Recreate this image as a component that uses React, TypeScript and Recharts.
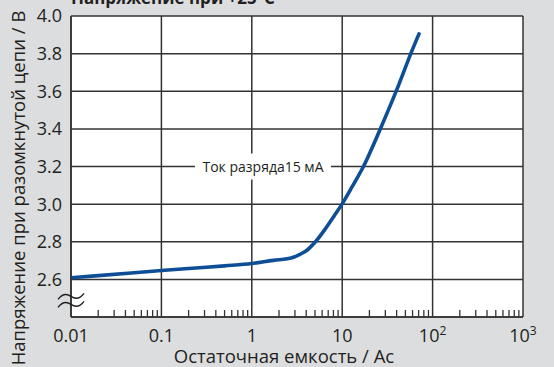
import React from "react";
import {
  ComposedChart,
  Line,
  Scatter,
  XAxis,
  YAxis,
  CartesianGrid,
  ReferenceDot,
} from "recharts";

const capacity = [0.01, 0.02, 0.05, 0.1, 0.2, 0.5, 1, 1.73, 2.65, 3.41, 4.08, 5.0, 6.45, 8.11, 9.95, 12.8, 17.0, 26.9, 40.4, 57.7, 70.7];
const voltage = [2.609, 2.62, 2.635, 2.647, 2.658, 2.672, 2.684, 2.701, 2.712, 2.733, 2.755, 2.797, 2.866, 2.936, 3.0, 3.09, 3.196, 3.409, 3.611, 3.803, 3.905];

const xTicks = [0.01, 0.1, 1, 10, 100, 1000];
const xTickLabels = ["0.01", "0.1", "1", "10", "10|2", "10|3"];
const yTicks = [2.6, 2.8, 3.0, 3.2, 3.4, 3.6, 3.8, 4.0];
const minorTicks = [0.02, 0.03, 0.04, 0.05, 0.06, 0.07, 0.08, 0.09, 0.2, 0.3, 0.4, 0.5, 0.6, 0.7, 0.8, 0.9, 2, 3, 4, 5, 6, 7, 8, 9, 20, 30, 40, 50, 60, 70, 80, 90, 200, 300, 400, 500, 600, 700, 800, 900];

const title = "Напряжение при +25°C";
const xTitle = "Остаточная емкость / Ас";
const yTitle = "Напряжение при разомкнутой цепи / В";
const annotation = "Ток разряда15 мА";
const annotationPos = { x: 1.33, y: 3.2 };
const xMin = 0.01;
const xMax = 1000;
const yMin = 2.4;
const yMax = 4.0;
const breakY = 2.483;

const data = capacity.map((c, i) => ({ c, v: voltage[i] }));
const minorData = minorTicks.map((c) => ({ c, v: yMin }));

const FONT = "'Open Sans', 'Noto Sans', sans-serif";
const TEXT = "#231f20";
const GRID = "#333333";
const BG = "#dcdddf";

const XTick = (props: any) => {
  const { x, y, payload } = props;
  const idx = xTicks.indexOf(payload.value);
  const lbl = idx >= 0 ? xTickLabels[idx] : String(payload.value);
  const parts = lbl.split("|");
  return (
    <text x={x} y={y + 25} textAnchor="middle" fontSize={18} fill={TEXT} fontFamily={FONT}>
      {parts[0]}
      {parts[1] ? (
        <tspan fontSize={12} dy={-7}>
          {parts[1]}
        </tspan>
      ) : null}
    </text>
  );
};

const MinorTickShape = (props: any) => {
  const { cx, cy } = props;
  if (cx == null || cy == null) return <g />;
  return <line x1={cx} x2={cx} y1={cy} y2={cy - 7} stroke={GRID} strokeWidth={1.3} />;
};

const AnnotationShape = (props: any) => {
  const { cx, cy } = props;
  return (
    <g>
      <rect x={cx - 68} y={cy - 13} width={136} height={26} fill="#fff" />
      <text x={cx} y={cy + 5} textAnchor="middle" fontSize={14} fill={TEXT} fontFamily={FONT}>
        {annotation}
      </text>
    </g>
  );
};

const BreakShape = (props: any) => {
  const { cx, cy } = props;
  const wave = (dy: number) => `M ${cx - 13} ${cy + dy + 2} q 6 -8 13 -3 t 13 -3`;
  return (
    <g fill="none" stroke={TEXT} strokeWidth={1.4}>
      <path d={wave(-4)} />
      <path d={wave(4)} />
    </g>
  );
};

const YLabel = () => (
  <text
    x={25}
    y={188}
    transform="rotate(-90, 25, 188)"
    textAnchor="middle"
    fontSize={18.5}
    fill={TEXT}
    fontFamily={FONT}
  >
    {yTitle}
  </text>
);

const XLabel = () => (
  <text x={284} y={363} textAnchor="middle" fontSize={18.5} fill={TEXT} fontFamily={FONT}>
    {xTitle}
  </text>
);

export default function App() {
  return (
    <div style={{ position: "absolute", left: 0, top: 0, width: 554, height: 367, background: BG, overflow: "hidden" }}>
      <ComposedChart
        width={554}
        height={367}
        data={data}
        margin={{ top: 16, right: 31, bottom: 0, left: 0 }}
      >
        <CartesianGrid stroke={GRID} strokeWidth={1.5} fill="#ffffff" fillOpacity={1} />
        <XAxis
          dataKey="c"
          type="number"
          scale="log"
          domain={[xMin, xMax]}
          ticks={xTicks}
          allowDataOverflow
          tickLine={false}
          axisLine={{ stroke: GRID, strokeWidth: 1.6 }}
          tickSize={0}
          tickMargin={0}
          height={50}
          tick={<XTick />}
          label={<XLabel />}
          interval={0}
        />
        <YAxis
          type="number"
          domain={[yMin, yMax]}
          ticks={yTicks}
          allowDataOverflow
          tickLine={false}
          axisLine={{ stroke: GRID, strokeWidth: 1.6 }}
          tickSize={0}
          tickMargin={9}
          width={71}
          interval={0}
          tickFormatter={(v: number) => v.toFixed(1)}
          tick={{ fontSize: 18, fill: TEXT, fontFamily: FONT }}
          label={<YLabel />}
        />
        <Scatter
          data={minorData}
          dataKey="v"
          shape={<MinorTickShape />}
          isAnimationActive={false}
        />
        <ReferenceDot
          x={annotationPos.x}
          y={annotationPos.y}
          r={1}
          shape={<AnnotationShape />}
          ifOverflow="visible"
        />
        <ReferenceDot x={xMin} y={breakY} r={1} shape={<BreakShape />} ifOverflow="visible" />
        <Line
          dataKey="v"
          type="monotone"
          stroke="#0d4e97"
          strokeWidth={3.6}
          strokeLinecap="round"
          dot={false}
          isAnimationActive={false}
        />
      </ComposedChart>
      <svg width={554} height={20} style={{ position: "absolute", left: 0, top: 0 }}>
        <text x={71} y={4} fontSize={17} fontWeight="bold" fill={TEXT} fontFamily={FONT}>
          {title}
        </text>
      </svg>
    </div>
  );
}
